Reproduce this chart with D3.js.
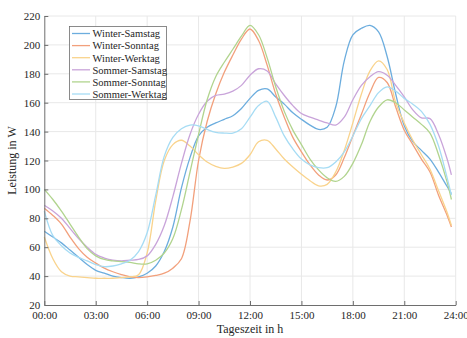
<!DOCTYPE html>
<html>
<head>
<meta charset="utf-8">
<script src="https://cdn.jsdelivr.net/npm/d3@7"></script>
<style>
  html, body { margin: 0; padding: 0; background: #fff; }
  svg { display: block; }
  text { font-family: "Liberation Serif", "Times New Roman", serif; fill: #262626; }
</style>
</head>
<body>
<svg id="chart" width="467" height="338"></svg>
<script>
// Time of day in hours (half-hour steps, last sample at 23:45)
const hours = [0,0.5,1,1.5,2,2.5,3,3.5,4,4.5,5,5.5,6,6.5,7,7.5,8,8.5,9,9.5,10,10.5,11,11.5,
               12,12.5,13,13.5,14,14.5,15,15.5,16,16.5,17,17.5,18,18.5,19,19.5,20,20.5,21,21.5,
               22,22.5,23,23.5,23.75];

// Average power in W per profile
const winterSamstag = [71,67,63,58,53,48,44,42,40,39,38.5,39.5,42,47,57,74,101,122,137,143,146,148.5,151,156,
                       163,168.5,169.5,164,159,153,148.5,144.5,141.5,143,157,189,207,211.5,213.5,209,192,166,144,133,
                       127,121,112,102,97];
const winterSonntag = [87,82,76,67,59,53,49,45.5,43,41,39.5,39,39.5,40.5,42,45.5,52,78,120,147,166,181,193,204,
                       211,203,186,166,150,136,126,117,110,106.5,110,122,137,152,167,177.5,174,157,141,131,
                       121,112,96,82,74];
const winterWerktag = [67,52,43,40,39.5,39,38.5,38.5,38.5,39,39.5,41,56,92,120,131,134,130,124,119,116,114.5,115.5,118,
                       124,133,134,128,121,115.5,110.5,106,102.5,103.5,112,127,146,166,182,189,183,160,146,134,
                       124,114,99,84,75];
const sommerSamstag = [89,85,80,73,66,60,55,52.5,51,50.5,51,51.5,54,62,75,95,118,138,152,161,165,166,168,172,
                       179,183.5,182,173,165,158,152.5,150,148,146,144.5,150,162,172,178,181.5,179,172,164,155,
                       149.5,149,138,121,110];
const sommerSonntag = [100,93,85,76,67,59,54,51.5,50.5,50,49.5,48.5,48.5,51,56,66,86,112,138,162,178,188,197,206,
                       213.5,207,191,171,154,141,131,121,113.5,108,105.5,109,118,131,147,157,162,160,155,150,
                       145,139,124,105,93];
const sommerWerktag = [85,68,61,56,53,50.5,48,46.5,47,48.5,51,57,70,96,123,136,142,144.5,144,141.5,139.5,139,139,142,
                       150,158,161,150,137,128,121,117,115,115,119,126,137,149,158,167,171,168,163,159,
                       154,145,130,108,96];

const seriesNames = ["Winter-Samstag","Winter-Sonntag","Winter-Werktag","Sommer-Samstag","Sommer-Sonntag","Sommer-Werktag"];
const seriesValues = [winterSamstag, winterSonntag, winterWerktag, sommerSamstag, sommerSonntag, sommerWerktag];
const seriesColors = ["#6cadde","#f2a07c","#f9d38c","#c9a4da","#b1d48e","#a6dcf4"];

const xTicks = [0,3,6,9,12,15,18,21,24];
const xTickLabels = ["00:00","03:00","06:00","09:00","12:00","15:00","18:00","21:00","24:00"];
const yTicks = [20,40,60,80,100,120,140,160,180,200,220];

const svg = d3.select("#chart");
const margin = {left: 44.3, right: 467 - 455.7, top: 16, bottom: 338 - 305};
const W = 467, H = 338;

const x = d3.scaleLinear().domain([0, 24]).range([margin.left, W - margin.right]);
const y = d3.scaleLinear().domain([20, 220]).range([H - margin.bottom, margin.top]);

// Grid
const grid = svg.append("g").attr("stroke", "#e8e8e8").attr("stroke-width", 1);
grid.selectAll("line.vx").data(xTicks.slice(1)).join("line")
  .attr("x1", d => x(d)).attr("x2", d => x(d))
  .attr("y1", y(20)).attr("y2", y(220));
grid.selectAll("line.hy").data(yTicks.slice(1)).join("line")
  .attr("x1", x(0)).attr("x2", x(24))
  .attr("y1", d => y(d)).attr("y2", d => y(d));

// Series lines
const line = d3.line()
  .x((d, i) => x(hours[i]))
  .y(d => y(d))
  .curve(d3.curveCatmullRom.alpha(0.5));

svg.append("g").selectAll("path").data(seriesValues).join("path")
  .attr("d", d => line(d))
  .attr("fill", "none")
  .attr("stroke", (d, i) => seriesColors[i])
  .attr("stroke-width", 1.3)
  .attr("stroke-linejoin", "round");

// Axes (ticks pointing inward)
const xAxis = d3.axisBottom(x).tickValues(xTicks)
  .tickFormat((d, i) => xTickLabels[i]).tickSizeInner(-4).tickSizeOuter(0).tickPadding(6);
const gx = svg.append("g").attr("transform", `translate(0,${y(20)})`).call(xAxis);
const yAxis = d3.axisLeft(y).tickValues(yTicks).tickSizeInner(-4).tickSizeOuter(0).tickPadding(4);
const gy = svg.append("g").attr("transform", `translate(${x(0)},0)`).call(yAxis);

[gx, gy].forEach(g => {
  g.select(".domain").attr("stroke", "#6e6e6e").attr("stroke-width", 1);
  g.selectAll(".tick line").attr("stroke", "#6e6e6e");
  g.selectAll(".tick text").attr("font-family", "Liberation Serif, serif")
    .attr("font-size", 11).attr("fill", "#262626");
});

// Axis titles
svg.append("text")
  .attr("x", (x(0) + x(24)) / 2).attr("y", 333)
  .attr("text-anchor", "middle").attr("font-size", 12)
  .text("Tageszeit in h");
svg.append("text")
  .attr("transform", `translate(16,${(y(20) + y(220)) / 2}) rotate(-90)`)
  .attr("text-anchor", "middle").attr("font-size", 12)
  .text("Leistung in W");

// Legend
const legend = svg.append("g");
legend.append("rect")
  .attr("x", 69.5).attr("y", 26.5).attr("width", 97).attr("height", 73)
  .attr("fill", "#fff").attr("stroke", "#6e6e6e").attr("stroke-width", 0.8);
const rows = legend.selectAll("g").data(seriesNames).join("g")
  .attr("transform", (d, i) => `translate(0,${33.5 + i * 12.1})`);
rows.append("line")
  .attr("x1", 72).attr("x2", 90).attr("y1", 0).attr("y2", 0)
  .attr("stroke", (d, i) => seriesColors[i]).attr("stroke-width", 1.3);
rows.append("text")
  .attr("x", 92.5).attr("y", 3.8).attr("font-size", 10.5)
  .text(d => d);
</script>
</body>
</html>
